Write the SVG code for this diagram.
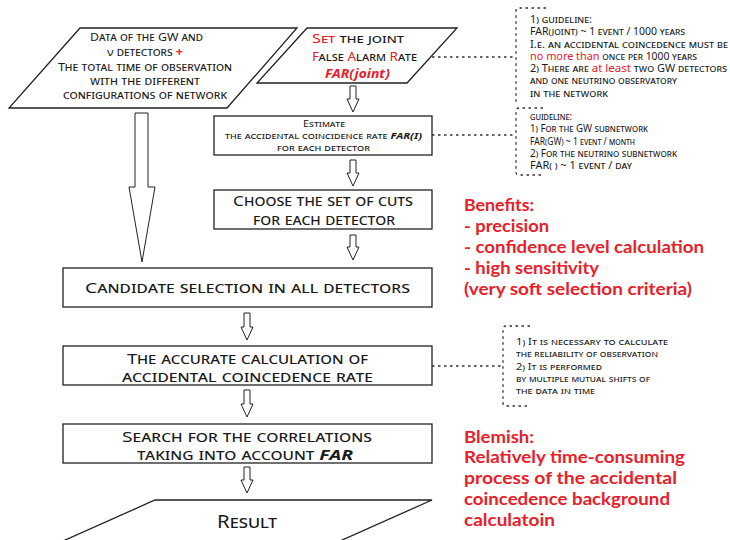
<svg xmlns="http://www.w3.org/2000/svg" width="730" height="540" viewBox="0 0 730 540">
<style>
.sc{font-family:"Noto Sans",sans-serif;font-variant:small-caps;fill:#1a1a1a}
.box{fill:#fff;stroke:#222;stroke-width:1.3}
.arr{fill:#fff;stroke:#222;stroke-width:1}
.dot{fill:none;stroke:#333;stroke-width:1.3;stroke-dasharray:2.5,3.5}
.red{fill:#e8202a}
.rn{fill:#e8202a;font-variant:normal}
.nv{font-variant:normal}
.bi{font-weight:bold;font-style:italic;font-variant:normal}
.rt{font-family:Lato,"Noto Sans",sans-serif;font-weight:bold;font-size:17.5px;fill:#e8202a}
</style>
<rect width="730" height="540" fill="#fff"/>
<g id="connectors">
<path class="arr" d="M135,113 V187 H129 L142,262 L155,187 H148 V113 Z"/>
<path class="arr" d="M350,86 V99 H347 L353,112 L359,99 H356 V86 Z"/>
<path class="arr" d="M350,160 V173 H347 L353,186 L359,173 H356 V160 Z"/>
<path class="arr" d="M350,235 V247 H347 L353,260 L359,247 H356 V235 Z"/>
<path class="arr" d="M244,313 V327 H241 L247,340 L253,327 H250 V313 Z"/>
<path class="arr" d="M244,390 V404 H241 L247,417 L253,404 H250 V390 Z"/>
<path class="arr" d="M244,467 V480 H241 L247,493 L253,480 H250 V467 Z"/>
<line class="dot" x1="432" y1="57" x2="516" y2="57"/>
<line class="dot" x1="432" y1="135" x2="516" y2="135"/>
<line class="dot" x1="432" y1="366" x2="503" y2="366"/>
<path class="dot" d="M546,8 H519 Q516,8 516,11 V102"/>
<path class="dot" d="M543,108 H519 Q516,108 516,111 V172 Q516,175 519,175 H543"/>
<path class="dot" d="M530,326 H506 Q503,326 503,329 V403 Q503,406 506,406 H530"/>
</g>
<g id="data">
<polygon class="box" points="80,28 297,28 227,108 9,108"/>
<g class="sc" font-size="11.5" text-anchor="middle">
<text x="146.5" y="41" textLength="113" lengthAdjust="spacingAndGlyphs">Data of the GW and</text>
<text x="145" y="56" textLength="76" lengthAdjust="spacingAndGlyphs"><tspan class="nv">ν</tspan> detectors <tspan class="red" font-weight="bold">+</tspan></text>
<text x="145" y="71" textLength="174" lengthAdjust="spacingAndGlyphs">The total time of observation</text>
<text x="145" y="85" textLength="110" lengthAdjust="spacingAndGlyphs">with the different</text>
<text x="145" y="99" textLength="164" lengthAdjust="spacingAndGlyphs">configurations of network</text>
</g>
</g>
<g id="setfar">
<polygon class="box" points="307,28 457,28 407,83 257,83"/>
<g class="sc" font-size="12.5" text-anchor="middle">
<text x="358" y="43" textLength="92" lengthAdjust="spacingAndGlyphs"><tspan class="red">Set</tspan> the joint</text>
<text x="364.5" y="61" textLength="105" lengthAdjust="spacingAndGlyphs"><tspan class="red">F</tspan>alse <tspan class="red">A</tspan>larm <tspan class="red">R</tspan>ate</text>
<text x="357.5" y="78" class="bi red" textLength="65" lengthAdjust="spacingAndGlyphs">FAR(joint)</text>
</g>
</g>
<g id="note1">
<g class="sc" font-size="10">
<text x="530" y="23" textLength="62" lengthAdjust="spacingAndGlyphs">1) guideline:</text>
<text x="530" y="35" textLength="155" lengthAdjust="spacingAndGlyphs">FAR(joint) ~ 1 event / 1000 years</text>
<text x="530" y="47.5" textLength="198" lengthAdjust="spacingAndGlyphs">I.e. an accidental coincedence must be</text>
<text x="530" y="60" textLength="167" lengthAdjust="spacingAndGlyphs"><tspan class="rn" font-size="10.5">no more than</tspan> once per 1000 years</text>
<text x="530" y="72" textLength="197" lengthAdjust="spacingAndGlyphs">2) There are <tspan class="rn" font-size="10.5">at least</tspan> two GW detectors</text>
<text x="530" y="84" textLength="147" lengthAdjust="spacingAndGlyphs">and one neutrino observatory</text>
<text x="530" y="96.5" textLength="78" lengthAdjust="spacingAndGlyphs">in the network</text>
</g>
</g>
<g id="estimate">
<rect class="box" x="214" y="116" width="218" height="39"/>
<g class="sc" font-size="9.5" text-anchor="middle">
<text x="324" y="127" textLength="42" lengthAdjust="spacingAndGlyphs">Estimate</text>
<text x="323.5" y="139" textLength="197" lengthAdjust="spacingAndGlyphs">the accidental coincidence rate <tspan class="bi">FAR(I)</tspan></text>
<text x="323.5" y="151" textLength="93" lengthAdjust="spacingAndGlyphs">for each detector</text>
</g>
</g>
<g id="note2">
<g class="sc" font-size="10">
<text x="530" y="120" textLength="42" lengthAdjust="spacingAndGlyphs">guideline:</text>
<text x="530" y="132" textLength="118" lengthAdjust="spacingAndGlyphs">1) For the GW subnetwork</text>
<text x="530" y="144.5" textLength="105" lengthAdjust="spacingAndGlyphs">FAR(GW) ~ 1 event / month</text>
<text x="530" y="157" textLength="147" lengthAdjust="spacingAndGlyphs">2) For the neutrino subnetwork</text>
<text x="530" y="169" textLength="102" lengthAdjust="spacingAndGlyphs">FAR(  ) ~ 1 event / day</text>
</g>
</g>
<g id="choose">
<rect class="box" x="214" y="190" width="218" height="39"/>
<g class="sc" font-size="15" text-anchor="middle">
<text x="323" y="206" textLength="180" lengthAdjust="spacingAndGlyphs">Choose the set of cuts</text>
<text x="324" y="225" textLength="142" lengthAdjust="spacingAndGlyphs">for each detector</text>
</g>
</g>
<g id="candidate">
<rect class="box" x="63" y="268" width="369" height="39"/>
<text class="sc" font-size="15" text-anchor="middle" x="247.5" y="293" textLength="325" lengthAdjust="spacingAndGlyphs">Candidate selection in all detectors</text>
</g>
<g id="accurate">
<rect class="box" x="63" y="346" width="369" height="39"/>
<g class="sc" font-size="15" text-anchor="middle">
<text x="247.5" y="364" textLength="241" lengthAdjust="spacingAndGlyphs">The accurate calculation of</text>
<text x="247.5" y="382" textLength="251" lengthAdjust="spacingAndGlyphs">accidental coincedence rate</text>
</g>
</g>
<g id="note3">
<g class="sc" font-size="9.5">
<text x="516" y="345" textLength="152" lengthAdjust="spacingAndGlyphs">1) It is necessary to calculate</text>
<text x="516" y="357" textLength="142" lengthAdjust="spacingAndGlyphs">the reliability of observation</text>
<text x="516" y="369.5" textLength="86" lengthAdjust="spacingAndGlyphs">2) It is performed</text>
<text x="516" y="382" textLength="134" lengthAdjust="spacingAndGlyphs">by multiple mutual shifts of</text>
<text x="516" y="394" textLength="79" lengthAdjust="spacingAndGlyphs">the data in time</text>
</g>
</g>
<g id="search">
<rect class="box" x="63" y="424" width="369" height="39"/>
<g class="sc" font-size="15" text-anchor="middle">
<text x="247" y="442" textLength="250" lengthAdjust="spacingAndGlyphs">Search for the correlations</text>
<text x="245" y="460" textLength="216" lengthAdjust="spacingAndGlyphs">taking into account <tspan class="bi">FAR</tspan></text>
</g>
</g>
<g id="result">
<polygon class="box" points="155,500 432,500 331,545 54,545"/>
<text class="sc" font-size="18" text-anchor="middle" x="247" y="528" textLength="60" lengthAdjust="spacingAndGlyphs">Result</text>
</g>
<g id="benefits">
<text class="rt" x="464" y="211" textLength="70" lengthAdjust="spacingAndGlyphs">Benefits:</text>
<text class="rt" x="464" y="232" textLength="85" lengthAdjust="spacingAndGlyphs">- precision</text>
<text class="rt" x="464" y="253" textLength="240" lengthAdjust="spacingAndGlyphs">- confidence level calculation</text>
<text class="rt" x="464" y="274" textLength="135" lengthAdjust="spacingAndGlyphs">- high sensitivity</text>
<text class="rt" x="464" y="295" textLength="228" lengthAdjust="spacingAndGlyphs">(very soft selection criteria)</text>
</g>
<g id="blemish">
<text class="rt" x="464" y="443" textLength="70" lengthAdjust="spacingAndGlyphs">Blemish:</text>
<text class="rt" x="464" y="463" textLength="221" lengthAdjust="spacingAndGlyphs">Relatively time-consuming</text>
<text class="rt" x="464" y="484" textLength="213" lengthAdjust="spacingAndGlyphs">process of the accidental</text>
<text class="rt" x="464" y="505" textLength="206" lengthAdjust="spacingAndGlyphs">coincedence background</text>
<text class="rt" x="464" y="526" textLength="91" lengthAdjust="spacingAndGlyphs">calculatoin</text>
</g>
</svg>
